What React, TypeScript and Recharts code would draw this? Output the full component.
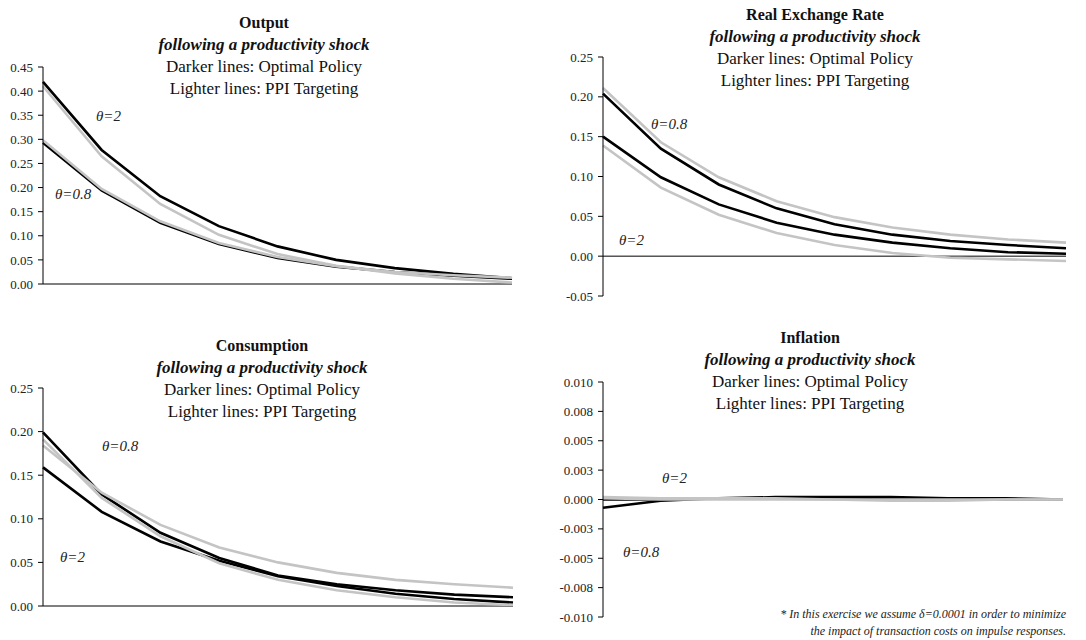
import React from "react";
import { LineChart, Line, XAxis, YAxis, ReferenceLine } from "recharts";

// ---- Data ----
const PERIODS = [1, 2, 3, 4, 5, 6, 7, 8, 9];

// Output
const outOptTheta2 = [0.419, 0.278, 0.182, 0.120, 0.078, 0.050, 0.033, 0.021, 0.012];
const outPpiTheta2 = [0.410, 0.265, 0.166, 0.102, 0.062, 0.038, 0.022, 0.011, 0.003];
const outOptTheta08 = [0.293, 0.194, 0.127, 0.083, 0.054, 0.036, 0.025, 0.017, 0.011];
const outPpiTheta08 = [0.298, 0.197, 0.130, 0.085, 0.056, 0.037, 0.025, 0.018, 0.013];

// Real exchange rate
const rerOptTheta08 = [0.204, 0.135, 0.090, 0.060, 0.040, 0.027, 0.019, 0.014, 0.010];
const rerPpiTheta08 = [0.211, 0.143, 0.099, 0.069, 0.049, 0.036, 0.027, 0.021, 0.017];
const rerOptTheta2 = [0.150, 0.099, 0.065, 0.042, 0.027, 0.017, 0.010, 0.005, 0.003];
const rerPpiTheta2 = [0.139, 0.086, 0.052, 0.029, 0.014, 0.004, -0.002, -0.004, -0.006];

// Consumption
const conOptTheta08 = [0.199, 0.128, 0.084, 0.055, 0.035, 0.025, 0.018, 0.013, 0.010];
const conOptTheta2 = [0.159, 0.108, 0.074, 0.052, 0.034, 0.023, 0.014, 0.008, 0.004];
const conPpiTheta2 = [0.184, 0.130, 0.093, 0.067, 0.050, 0.038, 0.030, 0.025, 0.021];
const conPpiTheta08 = [0.191, 0.124, 0.080, 0.049, 0.030, 0.018, 0.010, 0.004, 0.001];

// Inflation
const infOptTheta08 = [-0.0007, -0.0001, 0.0001, 0.0002, 0.0002, 0.0002, 0.0001, 0.0001, 0.0];
const infOptTheta2 = [0.0, 0.0, 0.0001, 0.0001, 0.0001, 0.0001, 0.0, 0.0, 0.0];
const infPpiTheta08 = [0.0001, 0.0, 0.0, 0.0, 0.0, -0.0001, -0.0001, 0.0, 0.0];
const infPpiTheta2 = [0.0002, 0.0001, 0.0001, 0.0001, 0.0, 0.0, 0.0, 0.0, 0.0];

// Tick values / labels
const outTicks = [0, 0.05, 0.1, 0.15, 0.2, 0.25, 0.3, 0.35, 0.4, 0.45];
const rerTicks = [-0.05, 0, 0.05, 0.1, 0.15, 0.2, 0.25];
const conTicks = [0, 0.05, 0.1, 0.15, 0.2, 0.25];
const infTicks = [-0.01, -0.0075, -0.005, -0.0025, 0, 0.0025, 0.005, 0.0075, 0.01];
const infTickLabels = ["-0.010", "-0.008", "-0.005", "-0.003", "0.000", "0.003", "0.005", "0.008", "0.010"];

const SERIF = "Liberation Serif";
const DARK = "#000000";
const LIGHT = "#c4c4c4";

type Row = { t: number; [k: string]: number };
function build(series: Record<string, number[]>): Row[] {
  return PERIODS.map((t, i) => {
    const r: Row = { t };
    Object.keys(series).forEach((k) => {
      r[k] = series[k][i];
    });
    return r;
  });
}

type PanelProps = {
  left: number;
  top: number;
  width: number;
  height: number;
  margin: { top: number; right: number; bottom: number; left: number };
  yWidth: number;
  domain: [number, number];
  ticks: number[];
  fmt: (v: number) => string;
  data: Row[];
  dark: string[];
  light: string[];
};

function Panel(p: PanelProps) {
  return (
    <div style={{ position: "absolute", left: p.left, top: p.top }}>
      <LineChart width={p.width} height={p.height} data={p.data} margin={p.margin}>
        <XAxis dataKey="t" hide />
        <YAxis
          width={p.yWidth}
          domain={p.domain}
          ticks={p.ticks}
          interval={0}
          allowDataOverflow
          tickFormatter={p.fmt}
          tickSize={5}
          tickMargin={5}
          axisLine={{ stroke: "#000", strokeWidth: 1 }}
          tickLine={{ stroke: "#000", strokeWidth: 1 }}
          tick={{ fill: "#222", fontSize: 13, fontFamily: SERIF }}
        />
        <ReferenceLine y={0} stroke="#000" strokeWidth={1} />
        {p.dark.map((k) => (
          <Line key={k} dataKey={k} type="linear" stroke={DARK} strokeWidth={2.6} dot={false} isAnimationActive={false} />
        ))}
        {p.light.map((k) => (
          <Line key={k} dataKey={k} type="linear" stroke={LIGHT} strokeWidth={2.6} dot={false} isAnimationActive={false} />
        ))}
      </LineChart>
    </div>
  );
}

const fmt2 = (v: number) => v.toFixed(2);
const fmtInf = (v: number) => {
  const i = infTicks.findIndex((x) => Math.abs(x - v) < 1e-9);
  return i >= 0 ? infTickLabels[i] : v.toFixed(3);
};

// HTML title block; `top` is the baseline of the first line
type TitleProps = { cx: number; top: number; title: string };
function Title({ cx, top, title }: TitleProps) {
  const line: React.CSSProperties = { fontFamily: SERIF, fontSize: 17, lineHeight: "22px", whiteSpace: "nowrap", color: "#111" };
  return (
    <div style={{ position: "absolute", left: cx - 150, width: 300, top: top - 17, textAlign: "center" }}>
      <div style={{ ...line, fontSize: 16, fontWeight: "bold" }}>{title}</div>
      <div style={{ ...line, fontWeight: "bold", fontStyle: "italic" }}>following a productivity shock</div>
      <div style={line}>Darker lines: Optimal Policy</div>
      <div style={line}>Lighter lines: PPI Targeting</div>
    </div>
  );
}

function Theta({ x, y, v }: { x: number; y: number; v: string }) {
  return (
    <div style={{ position: "absolute", left: x, top: y - 14, fontFamily: SERIF, fontSize: 15, fontStyle: "italic", color: "#222", lineHeight: "17px", whiteSpace: "nowrap" }}>
      {"\u03b8=" + v}
    </div>
  );
}

export default function App() {
  const outData = build({ outOptTheta2, outPpiTheta2, outOptTheta08, outPpiTheta08 });
  const rerData = build({ rerOptTheta08, rerPpiTheta08, rerOptTheta2, rerPpiTheta2 });
  const conData = build({ conOptTheta08, conOptTheta2, conPpiTheta2, conPpiTheta08 });
  const infData = build({ infOptTheta08, infOptTheta2, infPpiTheta08, infPpiTheta2 });

  return (
    <div style={{ position: "absolute", left: 0, top: 0, width: 1086, height: 640, background: "#fff", overflow: "hidden", fontFamily: SERIF }}>
      <Panel
        left={0} top={0} width={530} height={300}
        margin={{ top: 67, right: 18, bottom: 16, left: 0 }} yWidth={43}
        domain={[0, 0.45]} ticks={outTicks} fmt={fmt2} data={outData}
        dark={["outOptTheta2", "outOptTheta08"]} light={["outPpiTheta2", "outPpiTheta08"]}
      />
      <Panel
        left={550} top={0} width={530} height={310}
        margin={{ top: 57, right: 14, bottom: 14, left: 0 }} yWidth={53}
        domain={[-0.05, 0.25]} ticks={rerTicks} fmt={fmt2} data={rerData}
        dark={["rerOptTheta08", "rerOptTheta2"]} light={["rerPpiTheta08", "rerPpiTheta2"]}
      />
      <Panel
        left={0} top={320} width={530} height={300}
        margin={{ top: 68, right: 17, bottom: 14, left: 0 }} yWidth={43}
        domain={[0, 0.25]} ticks={conTicks} fmt={fmt2} data={conData}
        dark={["conOptTheta08", "conOptTheta2"]} light={["conPpiTheta2", "conPpiTheta08"]}
      />
      <Panel
        left={550} top={320} width={530} height={310}
        margin={{ top: 62, right: 17, bottom: 13, left: 0 }} yWidth={53}
        domain={[-0.01, 0.01]} ticks={infTicks} fmt={fmtInf} data={infData}
        dark={["infOptTheta08", "infOptTheta2"]} light={["infPpiTheta08", "infPpiTheta2"]}
      />

      <Title cx={264} top={29} title="Output" />
      <Title cx={815} top={21} title="Real Exchange Rate" />
      <Title cx={262} top={352} title="Consumption" />
      <Title cx={810} top={344} title="Inflation" />

      <Theta x={96} y={122} v="2" />
      <Theta x={55} y={200} v="0.8" />
      <Theta x={651} y={130} v="0.8" />
      <Theta x={619} y={246} v="2" />
      <Theta x={102} y={452} v="0.8" />
      <Theta x={60} y={563} v="2" />
      <Theta x={662} y={484} v="2" />
      <Theta x={623} y={558} v="0.8" />

      <div style={{ position: "absolute", right: 20, top: 606, textAlign: "right", fontFamily: SERIF, fontSize: 12, fontStyle: "italic", color: "#222", lineHeight: "17px", whiteSpace: "nowrap" }}>
        <div>{"* In this exercise we assume  \u03b4=0.0001 in order to minimize"}</div>
        <div>the impact of transaction costs on impulse responses.</div>
      </div>
    </div>
  );
}
